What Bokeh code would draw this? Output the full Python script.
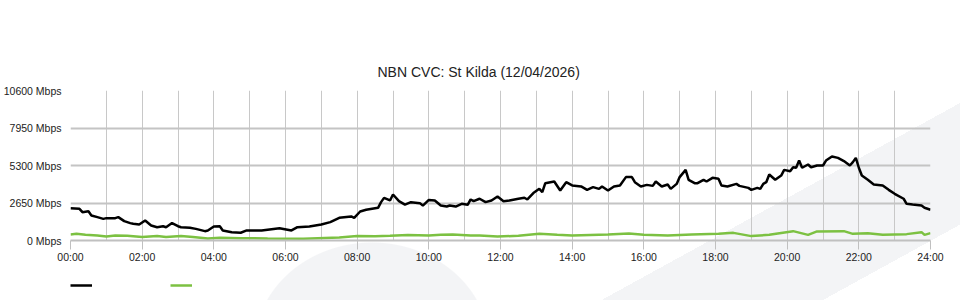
from bokeh.plotting import figure
from bokeh.layouts import column
from bokeh.models import (FixedTicker, PrintfTickFormatter, Legend, LegendItem)
from bokeh.embed import file_html
from bokeh.resources import INLINE

title_text = "NBN CVC: St Kilda (12/04/2026)"
y_ticks = [0, 2650, 5300, 7950, 10600]
x_tick_hours = list(range(0, 25, 2))
grid_hours = list(range(0, 25))

# black series (minutes since midnight, Mbps)
black_minutes = [0, 15, 20, 30, 35, 45, 55, 60, 75, 80, 90, 100, 105, 115, 125, 135, 145, 155, 160, 170,
                 180, 185, 200, 210, 225, 230, 240, 250, 255, 270, 285, 295, 320, 350, 370, 380, 400, 420,
                 435, 450, 470, 475, 485, 495, 515, 520, 525, 535, 540, 550, 560, 570, 585, 590, 600, 610,
                 620, 630, 635, 645, 655, 665, 670, 675, 685, 695, 705, 715, 725, 735, 750, 760, 765, 775,
                 785, 790, 795, 810, 820, 830, 840, 855, 865, 875, 885, 890, 900, 910, 920, 930, 940, 945,
                 955, 965, 975, 980, 990, 1000, 1005, 1015, 1020, 1030, 1035, 1045, 1050, 1060, 1065, 1075,
                 1085, 1090, 1100, 1115, 1120, 1135, 1140, 1150, 1155, 1160, 1165, 1170, 1180, 1190, 1195,
                 1205, 1210, 1215, 1220, 1225, 1235, 1240, 1250, 1260, 1265, 1275, 1285, 1295, 1305, 1310,
                 1315, 1320, 1325, 1335, 1345, 1360, 1370, 1380, 1395, 1400, 1410, 1425, 1430, 1440]
black_mbps = [2280, 2240, 2000, 2070, 1770, 1650, 1530, 1580, 1580, 1650, 1370, 1230, 1180, 1130, 1410, 1060, 940, 1010, 940, 1230,
              1010, 940, 900, 820, 660, 710, 990, 1010, 710, 590, 550, 710, 710, 870, 710, 940, 990, 1130,
              1300, 1600, 1700, 1600, 2050, 2170, 2310, 2710, 3010, 2830, 3250, 2780, 2540, 2710, 2640, 2470, 2870, 2830,
              2470, 2400, 2470, 2400, 2590, 2520, 2900, 2780, 2950, 2710, 2830, 3110, 2780, 2830, 2950, 3020, 2900, 3350,
              3650, 3420, 4050, 4170, 3530, 4120, 3890, 3820, 3580, 3770, 3650, 3820, 3530, 3820, 3890, 4480, 4480, 4120,
              3820, 3930, 3860, 4170, 3820, 3960, 3650, 4000, 4480, 4990, 4290, 4050, 4050, 4290, 4170, 4430,
              4360, 3890, 3820, 4000, 3860, 3720, 3580, 3720, 3650, 4000, 4120, 4660, 4290, 4590, 4990,
              4900, 5180, 5140, 5650, 5140, 5370, 5180, 5300, 5300, 5650, 5940, 5840, 5610, 5300, 5540,
              5840, 5140, 4590, 4290, 3960, 3890, 3580, 3300, 2950, 2590, 2540, 2470, 2310, 2170]

# green series (minutes since midnight, Mbps)
green_minutes = [0, 10, 25, 45, 60, 75, 95, 120, 145, 160, 185, 205, 230, 250, 285, 330, 390, 450, 480, 510,
                 535, 565, 600, 620, 640, 670, 685, 715, 750, 785, 815, 840, 900, 935, 960, 1000, 1040, 1085,
                 1110, 1140, 1170, 1210, 1235, 1250, 1295, 1310, 1335, 1360, 1400, 1425, 1430, 1440]
green_mbps = [420, 470, 400, 350, 280, 350, 330, 240, 310, 240, 310, 240, 140, 190, 165, 140, 120, 210, 310, 300,
              330, 380, 360, 400, 420, 350, 350, 280, 330, 470, 400, 350, 420, 500, 400, 350, 420, 470,
              540, 310, 400, 660, 400, 640, 660, 470, 520, 400, 450, 590, 400, 520]

FONT = "Liberation Sans"
BLACK = "#000000"
GREEN = "#7cc142"

bx = [m / 60 for m in black_minutes]
gx = [m / 60 for m in green_minutes]

# decorative watermark behind the (transparent) canvases
watermark_css = ("radial-gradient(ellipse 118px 105px at 372px 347px, #f3f4f6 99%, rgba(255,255,255,0) 100%), "
                 "linear-gradient(151.2deg, rgba(255,255,255,0) 76.2%, #f3f4f6 76.2%, #f3f4f6 90.9%, "
                 "rgba(255,255,255,0) 90.9%), #ffffff")

p = figure(width=960, height=270, output_backend="svg", toolbar_location=None,
           x_range=(0, 24), y_range=(0, 10600),
           min_border_left=70, min_border_right=30, min_border_top=90, min_border_bottom=30)
p.outline_line_color = None
p.background_fill_color = None
p.border_fill_color = None

p.title.text = title_text
p.title.align = "left"
p.title.offset = 307
p.title.standoff = 22
p.title.text_font = FONT
p.title.text_font_size = "14px"
p.title.text_font_style = "normal"
p.title.text_color = "#222222"

r1 = p.line(bx, black_mbps, line_color=BLACK, line_width=2.5)
r2 = p.line(gx, green_mbps, line_color=GREEN, line_width=2.5)

p.yaxis.ticker = FixedTicker(ticks=y_ticks)
p.yaxis.formatter = PrintfTickFormatter(format="%d Mbps")
p.yaxis.axis_line_color = None
p.yaxis.major_tick_line_color = None
p.yaxis.minor_tick_line_color = None
p.yaxis.major_tick_out = 0
p.yaxis.major_label_standoff = 9
p.yaxis.major_label_text_font = FONT
p.yaxis.major_label_text_font_size = "10.5px"
p.yaxis.major_label_text_color = "#222222"

p.xaxis.ticker = FixedTicker(ticks=x_tick_hours)
p.xaxis.formatter = PrintfTickFormatter(format="%02d:00")
p.xaxis.axis_line_color = "#c0c0c0"
p.xaxis.axis_line_width = 2
p.xaxis.major_tick_line_color = "#c0c0c0"
p.xaxis.major_tick_in = 0
p.xaxis.major_tick_out = 9
p.xaxis.minor_tick_line_color = None
p.xaxis.major_label_standoff = 1
p.xaxis.major_label_text_font = FONT
p.xaxis.major_label_text_font_size = "10.5px"
p.xaxis.major_label_text_color = "#222222"

p.xgrid.ticker = FixedTicker(ticks=grid_hours)
p.xgrid.grid_line_color = "#c8c8c8"
p.xgrid.grid_line_width = 1
p.ygrid.ticker = FixedTicker(ticks=y_ticks)
p.ygrid.grid_line_color = "#c4c4c4"
p.ygrid.grid_line_width = 2

# legend strip below the chart (no axes, no title); its key renderers carry the
# series' first point only, which draws no visible line in this strip
lg = figure(width=960, height=30, output_backend="svg", toolbar_location=None,
            x_range=(100, 101), y_range=(100000, 100001), title=None,
            x_axis_location=None, y_axis_location=None,
            min_border_left=70, min_border_right=0, min_border_top=0, min_border_bottom=0)
lg.grid.visible = False
lg.outline_line_color = None
lg.background_fill_color = None
lg.border_fill_color = None
k1 = lg.line(x=bx[:1], y=black_mbps[:1], line_color=BLACK, line_width=2.5)
k2 = lg.line(x=gx[:1], y=green_mbps[:1], line_color=GREEN, line_width=2.5)
legend = Legend(items=[LegendItem(label=" ", renderers=[k1]), LegendItem(label=" ", renderers=[k2])],
                orientation="horizontal", location="top_left", glyph_width=22, glyph_height=30,
                label_width=73, label_standoff=5, spacing=0, padding=0, margin=0,
                border_line_color=None, background_fill_alpha=0,
                label_text_font_size="11px", label_height=13)
lg.add_layout(legend, "center")

page = column(p, lg, spacing=0, styles={"background": watermark_css})

open("out.html", "w").write(file_html(page, INLINE))
